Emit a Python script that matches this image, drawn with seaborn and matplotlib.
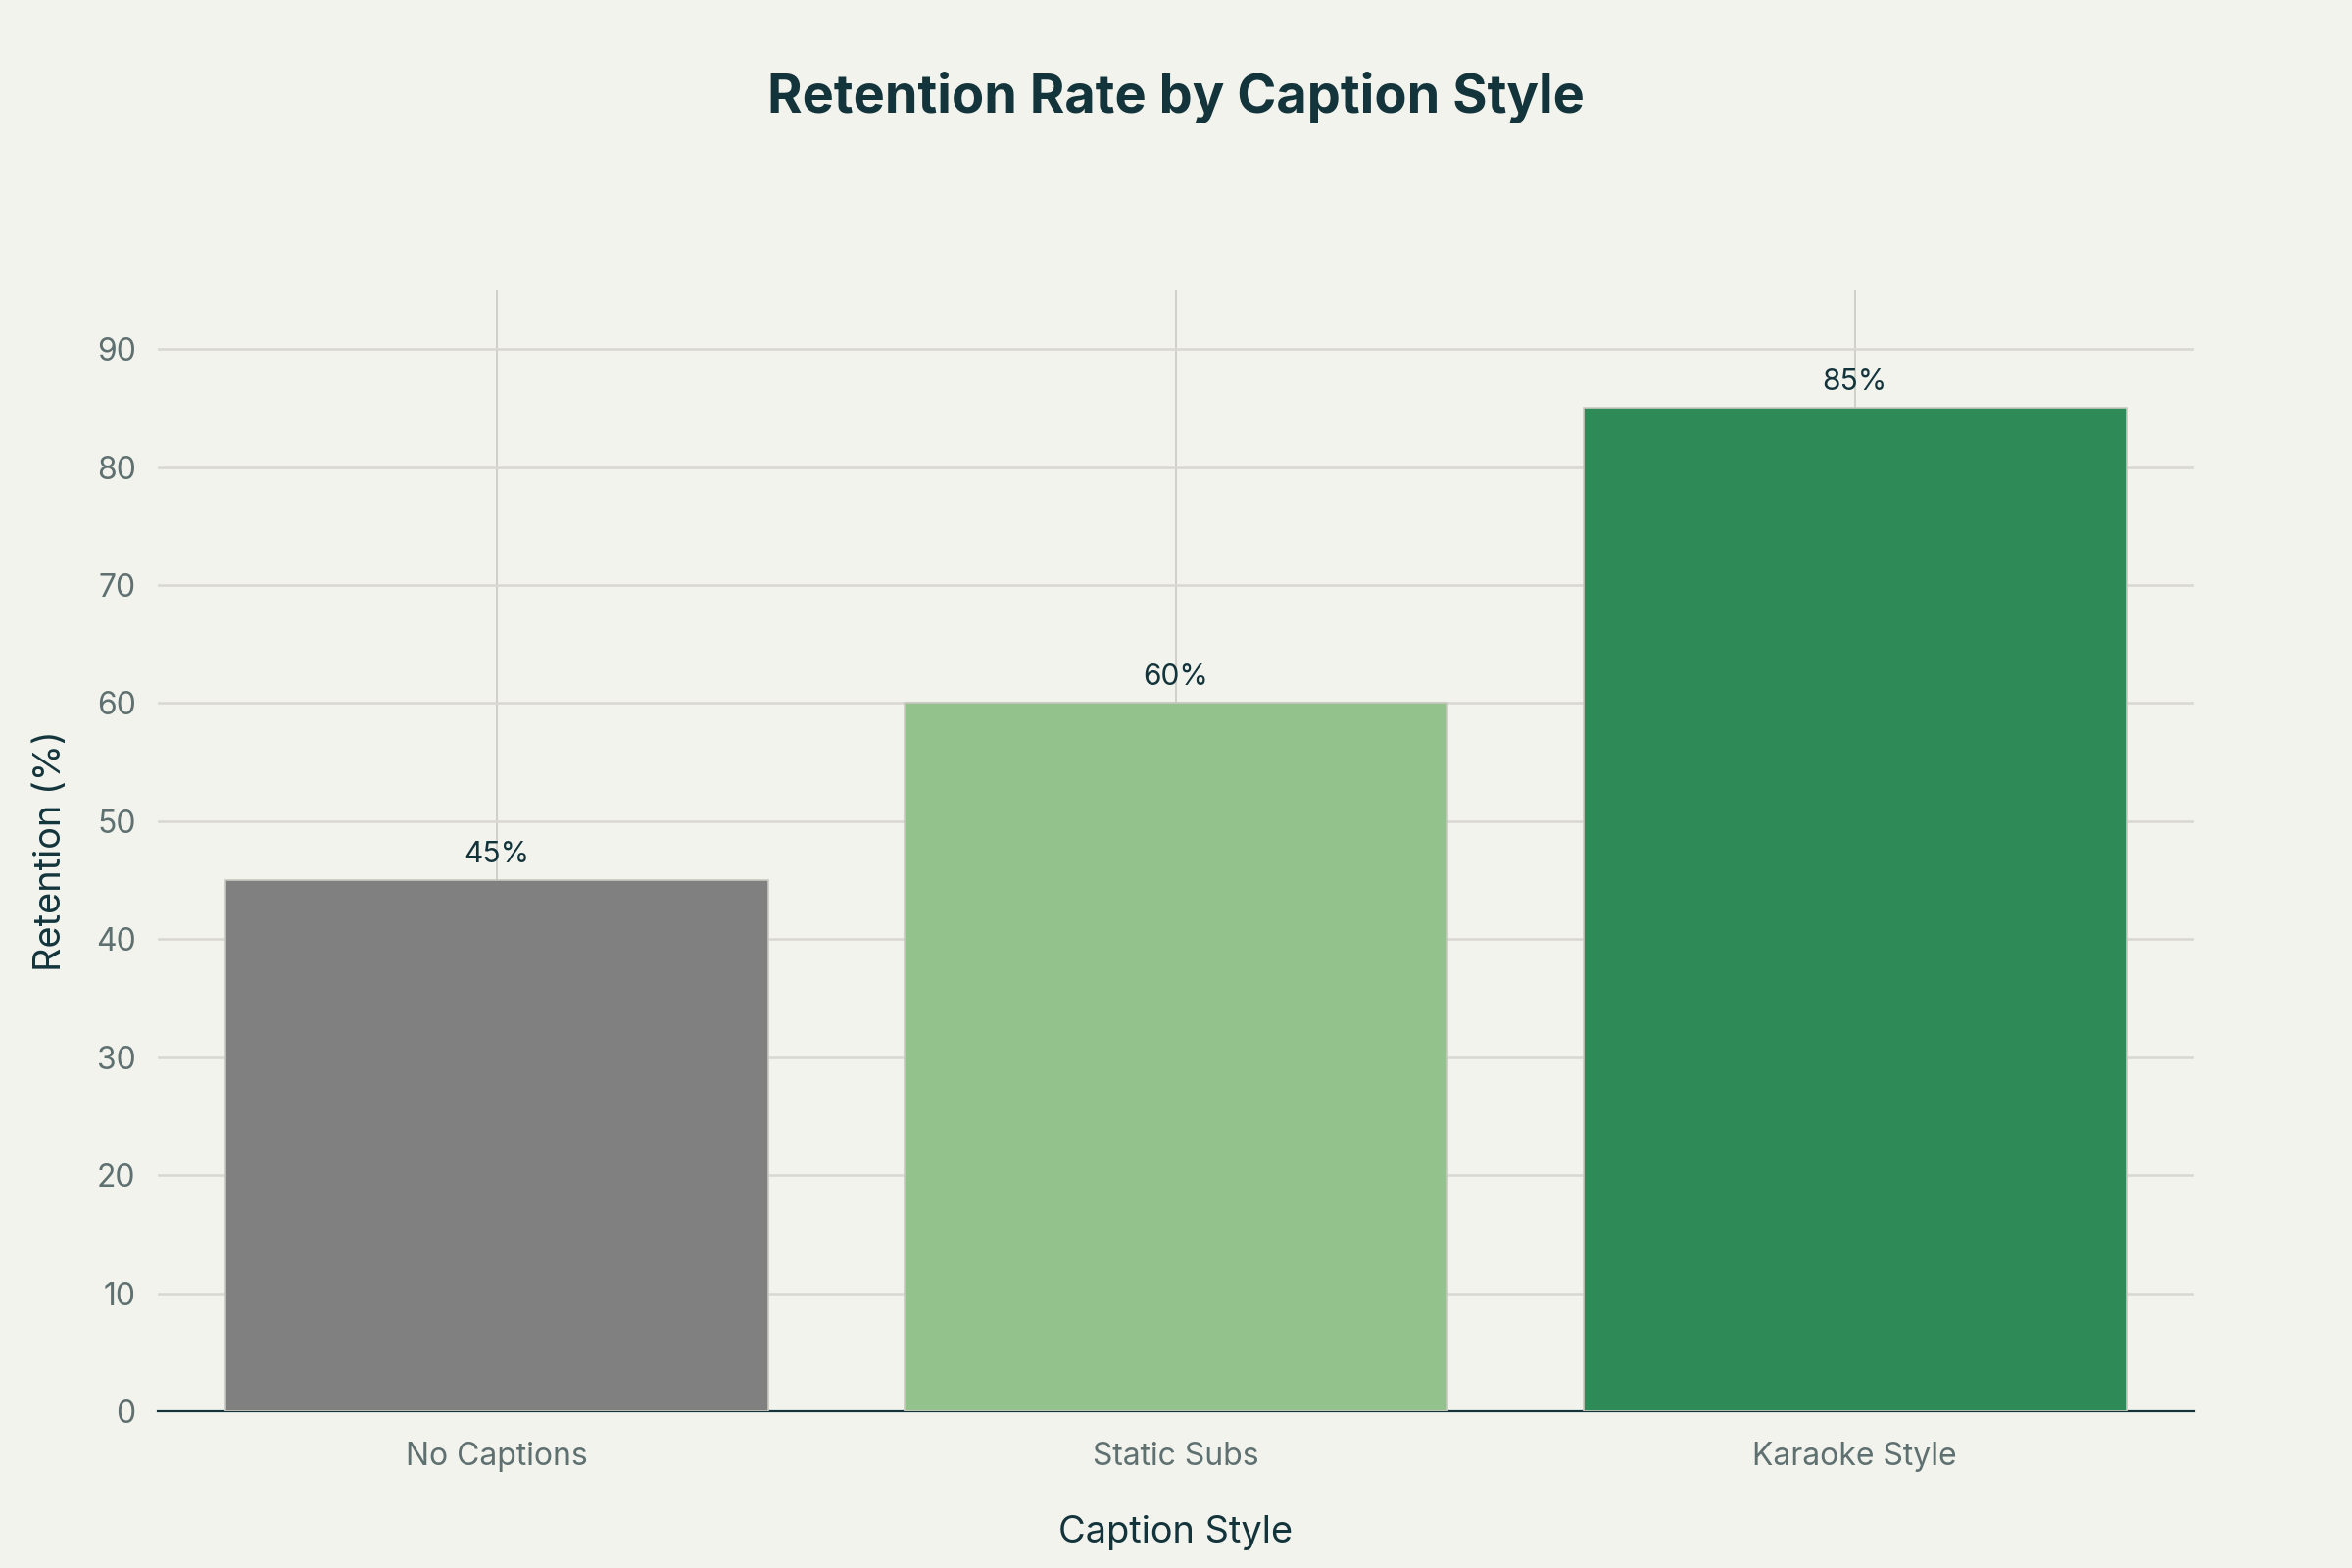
import pandas as pd
import matplotlib.pyplot as plt
import seaborn as sns

# chart data
styles = ['No Captions', 'Static Subs', 'Karaoke Style']
retention = [45, 60, 85]
bar_colors = ['#808080', '#93c28d', '#2e8b57']
y_ticks = [0, 10, 20, 30, 40, 50, 60, 70, 80, 90]

df = pd.DataFrame({'Caption Style': styles, 'Retention': retention})

sns.set_theme(style='whitegrid')
plt.rcParams['font.family'] = ['Inter', 'DejaVu Sans']

bg = '#f3f3ee'
dark = '#13343b'

fig, ax = plt.subplots(figsize=(12, 8), dpi=200)
fig.patch.set_facecolor(bg)
ax.set_facecolor(bg)
fig.subplots_adjust(left=0.067, right=0.933, top=0.815, bottom=0.1)

sns.barplot(data=df, x='Caption Style', y='Retention', hue='Caption Style',
            palette=bar_colors, saturation=1, legend=False, width=0.8, ax=ax,
            edgecolor='#c8c8c0', linewidth=0.6, zorder=3)

# value labels above bars
for i, v in enumerate(retention):
    ax.text(i, v + 1.0, f'{v}%', ha='center', va='bottom',
            fontsize=10.8, color=dark, zorder=4)

ax.set_xlim(-0.5, 2.5)
ax.set_ylim(0, 95)
ax.set_yticks(y_ticks)

ax.grid(axis='y', color='#d9d7d1', linewidth=0.9, zorder=0)
ax.grid(axis='x', color='#c9c9c4', linewidth=0.6, zorder=0)
ax.set_axisbelow(True)

for side in ['top', 'right', 'left']:
    ax.spines[side].set_visible(False)
ax.spines['bottom'].set_color(dark)
ax.spines['bottom'].set_linewidth(0.8)

ax.tick_params(axis='both', colors='#5f7070', labelsize=11.5, length=0, pad=8)
ax.tick_params(axis='x', length=5, color='#c9c9c4', pad=6)

ax.set_xlabel('Caption Style', fontsize=13.7, color=dark, labelpad=16)
ax.set_ylabel('Retention (%)', fontsize=13.7, color=dark, labelpad=10)

fig.text(0.5, 0.938, 'Retention Rate by Caption Style', ha='center', va='center',
         fontsize=19.5, fontweight='bold', color=dark)

fig.savefig('out.png', dpi=200, facecolor=bg)
